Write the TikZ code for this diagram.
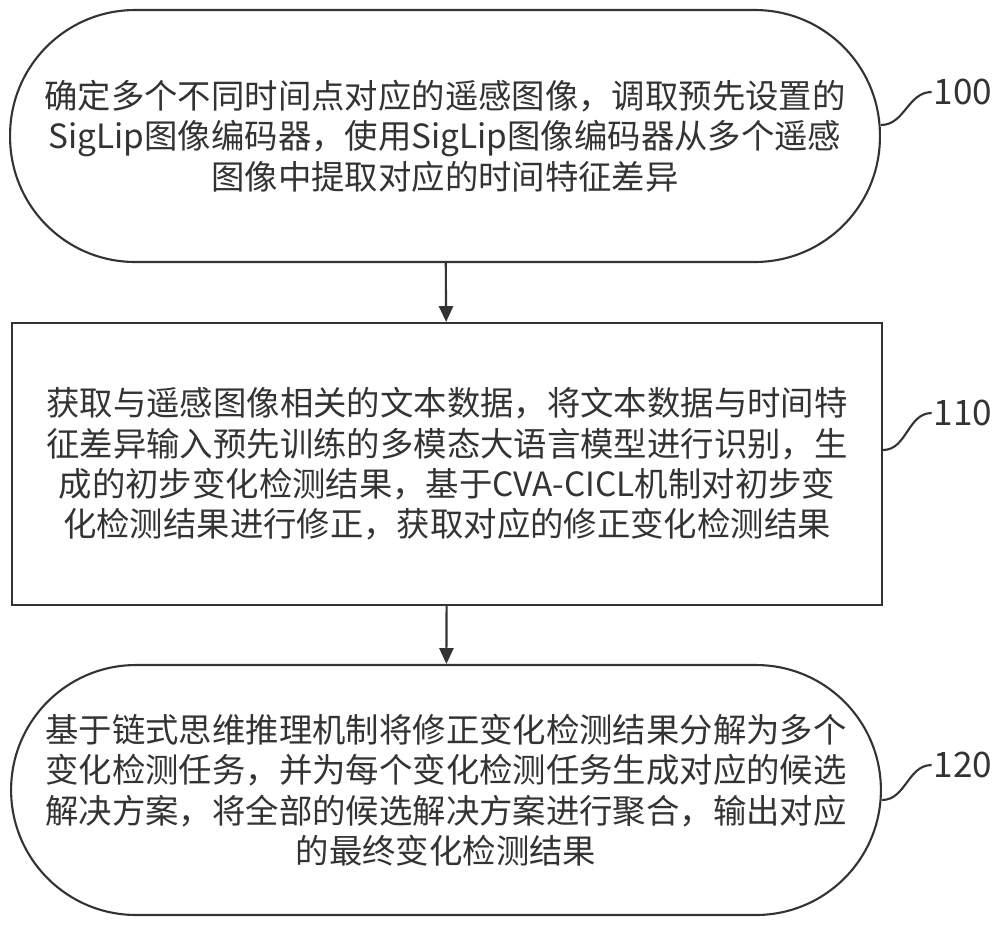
\documentclass[tikz,border=0pt]{standalone}
\usepackage{fontspec}
\setmainfont{Noto Sans CJK SC}
\usetikzlibrary{arrows.meta, positioning}
\definecolor{inkgray}{HTML}{333333}
\tikzset{
  stadium/.style={draw=inkgray, line width=1.2pt, rounded corners=2.5cm, minimum width=17.4cm, align=center, font=\fontsize{19pt}{23pt}\selectfont, text=inkgray},
  block/.style={draw=inkgray, line width=1.2pt, minimum width=17.4cm, align=center, font=\fontsize{19pt}{23pt}\selectfont, text=inkgray},
  arrow/.style={line width=1.2pt, draw=inkgray, -{Triangle[length=9pt,width=8pt]}},
  lead/.style={line width=1.2pt, draw=inkgray},
  steplabel/.style={font=\fontsize{20pt}{24pt}\selectfont, text=inkgray, inner sep=1pt}
}
\begin{document}
\begin{tikzpicture}[x=0.02cm, y=-0.02cm]
    \useasboundingbox (0,0) rectangle (1000,927);
    % three steps, top to bottom
    \node (s100) at (445,136) [stadium, minimum height=5.04cm]
      {确定多个不同时间点对应的遥感图像，调取预先设置的\\SigLip图像编码器，使用SigLip图像编码器从多个遥感\\图像中提取对应的时间特征差异};
    \node (s110) at (447,464) [block, minimum height=5.64cm]
      {获取与遥感图像相关的文本数据，将文本数据与时间特\\征差异输入预先训练的多模态大语言模型进行识别，生\\成的初步变化检测结果，基于CVA-CICL机制对初步变\\化检测结果进行修正，获取对应的修正变化检测结果};
    \node (s120) at (446,790) [stadium, minimum height=5.0cm]
      {基于链式思维推理机制将修正变化检测结果分解为多个\\变化检测任务，并为每个变化检测任务生成对应的候选\\解决方案，将全部的候选解决方案进行聚合，输出对应\\的最终变化检测结果};
    % step numbers
    \node (l100) at (963,92)  [steplabel] {100};
    \node (l110) at (963,413) [steplabel] {110};
    \node (l120) at (963,765) [steplabel] {120};

    \draw [arrow] (s100) -- (s110);
    \draw [arrow] (s110) -- (s120);
    \draw [lead] ([yshift=0.22cm]s100.east) to[out=0,in=180] (l100.west);
    \draw [lead] ([yshift=0.28cm]s110.east) to[out=0,in=180] (l110.west);
    \draw [lead] ([yshift=-0.2cm]s120.east) to[out=0,in=180] (l120.west);
\end{tikzpicture}
\end{document}
